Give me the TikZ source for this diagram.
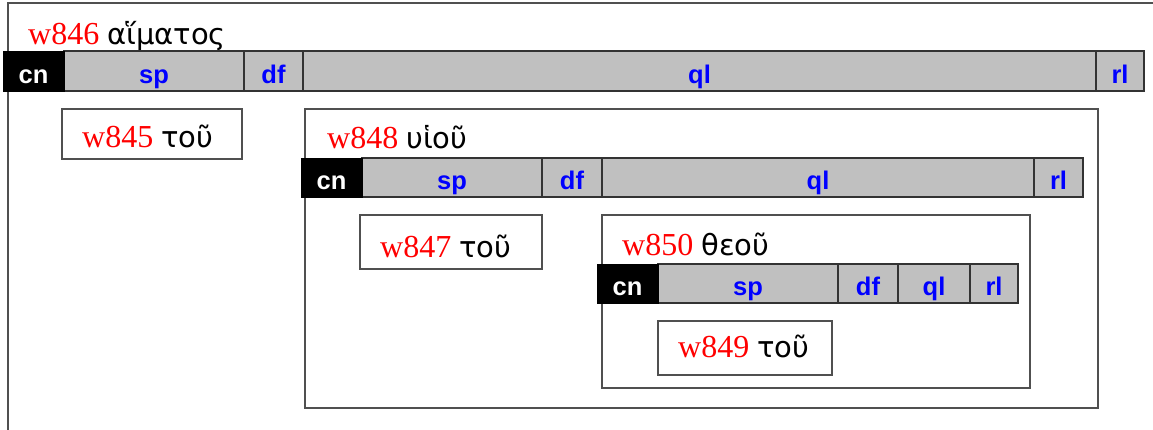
\documentclass[tikz,border=0pt]{standalone}
\usepackage{fontspec}
\setmainfont{Liberation Serif}
\newfontfamily\grk{DejaVu Sans}
\newfontfamily\lab{Liberation Sans}
\definecolor{cellgray}{HTML}{C0C0C0}
\definecolor{boxline}{HTML}{505050}
\tikzset{
  wbox/.style={draw=boxline, line width=1.6pt},
  cell/.style={draw=black!80, fill=cellgray, line width=1.3pt},
  cncell/.style={draw=black, fill=black, line width=1pt},
  lbl/.style={anchor=base, inner sep=0pt, text=blue, font=\lab\bfseries\fontsize{25.5}{25.5}\selectfont},
  cnlbl/.style={lbl, text=white},
  title/.style={anchor=base west, inner sep=0pt, font=\fontsize{32}{32}\selectfont},
}
\newcommand{\wid}[1]{\textcolor{red}{#1}}
\newcommand{\gk}[1]{{\grk\fontsize{29}{29}\selectfont #1}}
\begin{document}
\begin{tikzpicture}[x=1pt,y=-1pt]
\useasboundingbox (0,0) rectangle (1153,429);
% boxes
\draw[wbox] (1170,3) -- (8,3) -- (8,440);
\draw[wbox] (62,109) rectangle (242,159);
\draw[wbox] (305,109) rectangle (1098,408);
\draw[wbox] (360,215) rectangle (542,269);
\draw[wbox] (602,215) rectangle (1030,388);
\draw[wbox] (658,321) rectangle (832,375);
% titles
\node[title] (t846) at (28,44) {\wid{w846} \gk{αἵματος}};
\node[title] (t848) at (327,148) {\wid{w848} \gk{υἱοῦ}};
\node[title] (t850) at (622,255) {\wid{w850} \gk{θεοῦ}};
\node[title] (t845) at (82,147) {\wid{w845} \gk{τοῦ}};
\node[title] (t847) at (380,257) {\wid{w847} \gk{τοῦ}};
\node[title] (t849) at (678,357) {\wid{w849} \gk{τοῦ}};
% bar 1
\draw[cell] (64,51) rectangle (244,91);
\draw[cell] (244,51) rectangle (303,91);
\draw[cell] (303,51) rectangle (1096,91);
\draw[cell] (1096,51) rectangle (1144,91);
\fill[cncell] (3,51) rectangle (64,91);
\node[cnlbl] (a-cn) at (33.5,83.5) {cn};
\node[lbl] (a-sp) at (154,83.5) {sp};
\node[lbl] (a-df) at (273.5,83.5) {df};
\node[lbl] (a-ql) at (699.5,83.5) {ql};
\node[lbl] (a-rl) at (1120,83.5) {rl};
% bar 2
\draw[cell] (362,158) rectangle (542,197);
\draw[cell] (542,158) rectangle (602,197);
\draw[cell] (602,158) rectangle (1034,197);
\draw[cell] (1034,158) rectangle (1083,197);
\fill[cncell] (301,158) rectangle (362,197);
\node[cnlbl] (b-cn) at (331.5,189.5) {cn};
\node[lbl] (b-sp) at (452,189.5) {sp};
\node[lbl] (b-df) at (572,189.5) {df};
\node[lbl] (b-ql) at (818,189.5) {ql};
\node[lbl] (b-rl) at (1058.5,189.5) {rl};
% bar 3
\draw[cell] (658,264) rectangle (838,303);
\draw[cell] (838,264) rectangle (898,303);
\draw[cell] (898,264) rectangle (970,303);
\draw[cell] (970,264) rectangle (1018,303);
\fill[cncell] (597,264) rectangle (658,303);
\node[cnlbl] (c-cn) at (627.5,295.5) {cn};
\node[lbl] (c-sp) at (748,295.5) {sp};
\node[lbl] (c-df) at (868,295.5) {df};
\node[lbl] (c-ql) at (934,295.5) {ql};
\node[lbl] (c-rl) at (994,295.5) {rl};
\end{tikzpicture}
\end{document}
